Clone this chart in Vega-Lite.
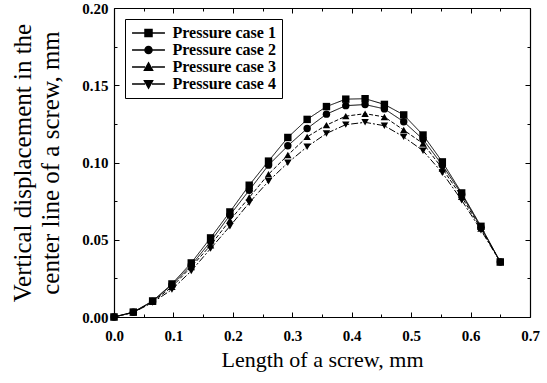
{
  "$schema": "https://vega.github.io/schema/vega-lite/v6.json",
  "autosize": "none",
  "width": 416,
  "height": 309,
  "padding": {"left": 114, "top": 8, "right": 17, "bottom": 66},
  "background": "white",
  "config": {
    "view": {"stroke": null},
    "font": "Liberation Serif",
    "axis": {
      "domainColor": "black",
      "domainWidth": 1.2,
      "tickColor": "black",
      "tickWidth": 1,
      "tickSize": -5,
      "grid": false,
      "labelFlush": false,
      "labelFont": "Liberation Serif",
      "labelFontWeight": "bold",
      "labelFontSize": 15,
      "labelColor": "black",
      "titleFont": "Liberation Serif",
      "titleFontWeight": "normal",
      "titleFontSize": 23,
      "titleColor": "black"
    },
    "legend": {
      "labelFont": "Liberation Serif",
      "labelFontWeight": "bold",
      "labelFontSize": 16,
      "labelColor": "black",
      "labelLimit": 300,
      "padding": 6,
      "rowPadding": 1,
      "strokeColor": "black",
      "fillColor": "white",
      "symbolSize": 49,
      "symbolOffset": 9.5,
      "labelOffset": 16
    }
  },
  "data": {
    "values": [
      {"x": 0, "y": 0, "case": "Pressure case 1"},
      {"x": 0.0325, "y": 0.0032, "case": "Pressure case 1"},
      {"x": 0.065, "y": 0.0104, "case": "Pressure case 1"},
      {"x": 0.0975, "y": 0.0214, "case": "Pressure case 1"},
      {"x": 0.13, "y": 0.035, "case": "Pressure case 1"},
      {"x": 0.1625, "y": 0.0512, "case": "Pressure case 1"},
      {"x": 0.195, "y": 0.068, "case": "Pressure case 1"},
      {"x": 0.2275, "y": 0.0853, "case": "Pressure case 1"},
      {"x": 0.26, "y": 0.1009, "case": "Pressure case 1"},
      {"x": 0.2925, "y": 0.1162, "case": "Pressure case 1"},
      {"x": 0.325, "y": 0.1279, "case": "Pressure case 1"},
      {"x": 0.3575, "y": 0.1362, "case": "Pressure case 1"},
      {"x": 0.39, "y": 0.141, "case": "Pressure case 1"},
      {"x": 0.4225, "y": 0.1413, "case": "Pressure case 1"},
      {"x": 0.455, "y": 0.1376, "case": "Pressure case 1"},
      {"x": 0.4875, "y": 0.1308, "case": "Pressure case 1"},
      {"x": 0.52, "y": 0.1178, "case": "Pressure case 1"},
      {"x": 0.5525, "y": 0.1004, "case": "Pressure case 1"},
      {"x": 0.585, "y": 0.0803, "case": "Pressure case 1"},
      {"x": 0.6175, "y": 0.0587, "case": "Pressure case 1"},
      {"x": 0.65, "y": 0.0356, "case": "Pressure case 1"},
      {"x": 0, "y": 0, "case": "Pressure case 2"},
      {"x": 0.0325, "y": 0.0031, "case": "Pressure case 2"},
      {"x": 0.065, "y": 0.0101, "case": "Pressure case 2"},
      {"x": 0.0975, "y": 0.0208, "case": "Pressure case 2"},
      {"x": 0.13, "y": 0.0335, "case": "Pressure case 2"},
      {"x": 0.1625, "y": 0.0488, "case": "Pressure case 2"},
      {"x": 0.195, "y": 0.0659, "case": "Pressure case 2"},
      {"x": 0.2275, "y": 0.082, "case": "Pressure case 2"},
      {"x": 0.26, "y": 0.0983, "case": "Pressure case 2"},
      {"x": 0.2925, "y": 0.1108, "case": "Pressure case 2"},
      {"x": 0.325, "y": 0.122, "case": "Pressure case 2"},
      {"x": 0.3575, "y": 0.1313, "case": "Pressure case 2"},
      {"x": 0.39, "y": 0.1368, "case": "Pressure case 2"},
      {"x": 0.4225, "y": 0.1375, "case": "Pressure case 2"},
      {"x": 0.455, "y": 0.1347, "case": "Pressure case 2"},
      {"x": 0.4875, "y": 0.1264, "case": "Pressure case 2"},
      {"x": 0.52, "y": 0.115, "case": "Pressure case 2"},
      {"x": 0.5525, "y": 0.0983, "case": "Pressure case 2"},
      {"x": 0.585, "y": 0.0795, "case": "Pressure case 2"},
      {"x": 0.6175, "y": 0.058, "case": "Pressure case 2"},
      {"x": 0.65, "y": 0.0356, "case": "Pressure case 2"},
      {"x": 0, "y": 0, "case": "Pressure case 3"},
      {"x": 0.0325, "y": 0.003, "case": "Pressure case 3"},
      {"x": 0.065, "y": 0.0098, "case": "Pressure case 3"},
      {"x": 0.0975, "y": 0.0195, "case": "Pressure case 3"},
      {"x": 0.13, "y": 0.0324, "case": "Pressure case 3"},
      {"x": 0.1625, "y": 0.0464, "case": "Pressure case 3"},
      {"x": 0.195, "y": 0.0626, "case": "Pressure case 3"},
      {"x": 0.2275, "y": 0.0773, "case": "Pressure case 3"},
      {"x": 0.26, "y": 0.0924, "case": "Pressure case 3"},
      {"x": 0.2925, "y": 0.1048, "case": "Pressure case 3"},
      {"x": 0.325, "y": 0.1166, "case": "Pressure case 3"},
      {"x": 0.3575, "y": 0.1242, "case": "Pressure case 3"},
      {"x": 0.39, "y": 0.13, "case": "Pressure case 3"},
      {"x": 0.4225, "y": 0.1316, "case": "Pressure case 3"},
      {"x": 0.455, "y": 0.1295, "case": "Pressure case 3"},
      {"x": 0.4875, "y": 0.121, "case": "Pressure case 3"},
      {"x": 0.52, "y": 0.1123, "case": "Pressure case 3"},
      {"x": 0.5525, "y": 0.0961, "case": "Pressure case 3"},
      {"x": 0.585, "y": 0.0778, "case": "Pressure case 3"},
      {"x": 0.6175, "y": 0.0572, "case": "Pressure case 3"},
      {"x": 0.65, "y": 0.0356, "case": "Pressure case 3"},
      {"x": 0, "y": 0, "case": "Pressure case 4"},
      {"x": 0.0325, "y": 0.0029, "case": "Pressure case 4"},
      {"x": 0.065, "y": 0.0094, "case": "Pressure case 4"},
      {"x": 0.0975, "y": 0.0178, "case": "Pressure case 4"},
      {"x": 0.13, "y": 0.0298, "case": "Pressure case 4"},
      {"x": 0.1625, "y": 0.0443, "case": "Pressure case 4"},
      {"x": 0.195, "y": 0.0587, "case": "Pressure case 4"},
      {"x": 0.2275, "y": 0.0739, "case": "Pressure case 4"},
      {"x": 0.26, "y": 0.0879, "case": "Pressure case 4"},
      {"x": 0.2925, "y": 0.0998, "case": "Pressure case 4"},
      {"x": 0.325, "y": 0.1102, "case": "Pressure case 4"},
      {"x": 0.3575, "y": 0.1188, "case": "Pressure case 4"},
      {"x": 0.39, "y": 0.1245, "case": "Pressure case 4"},
      {"x": 0.4225, "y": 0.126, "case": "Pressure case 4"},
      {"x": 0.455, "y": 0.1238, "case": "Pressure case 4"},
      {"x": 0.4875, "y": 0.1166, "case": "Pressure case 4"},
      {"x": 0.52, "y": 0.1076, "case": "Pressure case 4"},
      {"x": 0.5525, "y": 0.0933, "case": "Pressure case 4"},
      {"x": 0.585, "y": 0.0756, "case": "Pressure case 4"},
      {"x": 0.6175, "y": 0.0562, "case": "Pressure case 4"},
      {"x": 0.65, "y": 0.0356, "case": "Pressure case 4"}
    ]
  },
  "layer": [
    {
      "mark": {"type": "line", "color": "black", "strokeWidth": 1},
      "encoding": {
        "x": {"field": "x", "type": "quantitative", "scale": {"domain": [0, 0.7], "nice": false, "zero": false},
          "axis": {"orient": "bottom", "values": [0, 0.1, 0.2, 0.3, 0.4, 0.5, 0.6, 0.7], "format": ".1f", "labelPadding": 16, "title": "Length of a screw, mm", "titlePadding": 6, "titleFontSize": 22}},
        "y": {"field": "y", "type": "quantitative", "scale": {"domain": [0, 0.2], "nice": false, "zero": false},
          "axis": {"orient": "left", "values": [0, 0.05, 0.1, 0.15, 0.2], "format": ".2f", "labelPadding": 11, "title": ["Vertical displacement in the", "center line of a screw, mm"], "titlePadding": 18, "titleFontSize": 25, "titleLineHeight": 28}},
        "strokeDash": {"field": "case", "type": "nominal", "legend": null,
          "scale": {"domain": ["Pressure case 1", "Pressure case 2", "Pressure case 3", "Pressure case 4"], "range": [[1, 0], [1, 0], [4, 2], [7, 2, 2, 2]]}},
        "detail": {"field": "case", "type": "nominal"}
      }
    },
    {
      "mark": {"type": "point", "filled": true, "color": "black", "opacity": 1, "size": 55},
      "encoding": {
        "x": {"field": "x", "type": "quantitative", "axis": {"orient": "top", "values": [0, 0.1, 0.2, 0.3, 0.4, 0.5, 0.6, 0.7], "labels": false, "title": null}},
        "y": {"field": "y", "type": "quantitative", "axis": {"orient": "right", "values": [0, 0.05, 0.1, 0.15, 0.2], "labels": false, "title": null}},
        "shape": {"field": "case", "type": "nominal", "legend": null,
          "scale": {"domain": ["Pressure case 1", "Pressure case 2", "Pressure case 3", "Pressure case 4"], "range": ["square", "circle", "triangle-up", "triangle-down"]}}
      }
    },
    {
      "mark": {"type": "point", "opacity": 0},
      "encoding": {
        "x": {"field": "x", "type": "quantitative", "axis": {"orient": "bottom", "values": [0.05, 0.15, 0.25, 0.35, 0.45, 0.55, 0.65], "labels": false, "domain": false, "tickSize": -3, "title": null}},
        "y": {"field": "y", "type": "quantitative", "axis": {"orient": "left", "values": [0.025, 0.075, 0.125, 0.175], "labels": false, "domain": false, "tickSize": -3, "title": null}}
      }
    },
    {
      "mark": {"type": "point", "opacity": 0},
      "encoding": {
        "x": {"field": "x", "type": "quantitative", "axis": {"orient": "top", "values": [0.05, 0.15, 0.25, 0.35, 0.45, 0.55, 0.65], "labels": false, "domain": false, "tickSize": -3, "title": null}},
        "y": {"field": "y", "type": "quantitative", "axis": {"orient": "right", "values": [0.025, 0.075, 0.125, 0.175], "labels": false, "domain": false, "tickSize": -3, "title": null}}
      }
    },
    {
      "transform": [{"filter": "datum.x < 0"}],
      "mark": {"type": "point", "filled": true, "fill": "black", "stroke": "black", "strokeWidth": 1, "opacity": 1},
      "encoding": {
        "x": {"field": "x", "type": "quantitative", "axis": null},
        "y": {"field": "y", "type": "quantitative", "axis": null},
        "strokeDash": {"field": "case", "type": "nominal", "legend": {"title": null, "orient": "top-left", "offset": 11, "labelFontSize": 16, "labelFontWeight": "bold"}},
        "shape": {"field": "case", "type": "nominal",
          "scale": {"domain": ["Pressure case 1", "Pressure case 2", "Pressure case 3", "Pressure case 4"],
            "range": ["M-4.7,0H-1M1,0H4.7M-1,-1H1V1H-1Z", "M-4.7,0H-1M1,0H4.7M1,0A1,1,0,1,1,-1,0A1,1,0,1,1,1,0Z", "M-4.7,0H-1M1,0H4.7M0,-1.15L1.15,0.9H-1.15Z", "M-4.7,0H-1M1,0H4.7M0,1.15L1.15,-0.9H-1.15Z"]},
          "legend": {"title": null, "orient": "top-left", "offset": 11, "labelFontSize": 16, "labelFontWeight": "bold"}
        }
      }
    }
  ],
  "resolve": {"axis": {"x": "independent", "y": "independent"}, "scale": {"shape": "independent"}}
}
